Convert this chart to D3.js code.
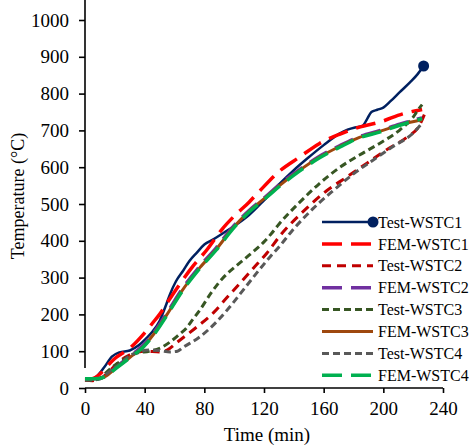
<!DOCTYPE html>
<html>
<head>
<meta charset="utf-8">
<script src="https://cdn.jsdelivr.net/npm/d3@7"></script>
<style>
  html, body { margin: 0; padding: 0; background: #fff; }
  svg { display: block; font-family: "Liberation Serif", "Times New Roman", serif; }
</style>
</head>
<body>
<svg id="chart" width="469" height="446"></svg>
<script>
// ---- Data ----
const xTicks = [0, 40, 80, 120, 160, 200, 240];
const yTicks = [0, 100, 200, 300, 400, 500, 600, 700, 800, 900, 1000];

const testWSTC1_t = [0,4,8,13,18,23,30,36,41,45,50,54,57,61,66,70,75,80,86,93,100,110,120,130,140,150,160,170,176,181,186,189,192,196,200,205,211,218,223,227];
const testWSTC1_T = [22,23,32,57,85,97,102,116,135,152,182,222,255,290,320,345,368,390,404,422,440,470,510,553,592,627,660,690,702,708,712,730,750,756,762,780,804,831,853,875];

const femWSTC1_t = [0,5,10,15,20,30,40,46,50,55,64,72,82,92,100,110,117,130,144,157,171,184,198,213,226];
const femWSTC1_T = [22,25,38,60,80,108,150,180,200,231,285,329,377,432,467,505,535,588,628,664,690,709,723,745,757];

const testWSTC2_t = [0,5,10,15,20,25,30,35,40,50,55,62,75,86,95,104,113,122,131,149,162,175,189,202,216,224,228];
const testWSTC2_T = [22,20,25,40,60,78,90,97,100,98,103,125,166,204,245,285,326,367,415,490,536,572,611,647,682,712,748];

const femWSTC2_t = [0,10,13,21,30,39,46,55,65,77,88,99,110,122,131,144,157,171,184,198,211,226];
const femWSTC2_T = [25,26,31,57,86,116,150,204,268,331,381,437,482,523,555,594,629,659,683,700,717,734];

const testWSTC3_t = [0,5,10,15,20,25,30,35,43,50,57,63,68,72,77,85,92,102,110,120,125,130,144,157,171,184,198,211,220,224,226];
const testWSTC3_T = [22,22,27,45,62,75,87,95,100,108,125,145,163,185,212,261,297,334,361,397,420,445,505,555,600,633,666,701,736,760,770];

const femWSTC3_t = [0,10,13,21,30,39,46,55,65,77,88,99,110,122,131,144,157,171,184,198,211,226];
const femWSTC3_T = [25,26,30,55,83,112,146,200,264,327,377,434,480,521,552,592,627,657,681,698,715,729];

const testWSTC4_t = [0,5,10,15,20,25,30,35,43,50,57,62,66,77,88,97,106,115,124,131,139,153,166,180,193,206,220,226];
const testWSTC4_T = [22,22,25,40,55,70,88,97,103,102,98,100,111,139,179,220,266,312,356,388,428,488,535,582,619,655,693,720];

const femWSTC4_t = [0,10,13,21,30,39,46,55,65,77,88,99,110,122,131,144,157,171,184,198,211,226];
const femWSTC4_T = [25,26,30,54,82,111,144,198,262,325,375,432,478,519,550,590,625,655,680,696,714,732];

const seriesNames = ["Test-WSTC1","FEM-WSTC1","Test-WSTC2","FEM-WSTC2","Test-WSTC3","FEM-WSTC3","Test-WSTC4","FEM-WSTC4"];
const seriesTimes = [testWSTC1_t, femWSTC1_t, testWSTC2_t, femWSTC2_t, testWSTC3_t, femWSTC3_t, testWSTC4_t, femWSTC4_t];
const seriesTemps = [testWSTC1_T, femWSTC1_T, testWSTC2_T, femWSTC2_T, testWSTC3_T, femWSTC3_T, testWSTC4_T, femWSTC4_T];

// ---- Styles ----
const styles = [
  { color: "#002060", width: 2.5, dash: null, marker: true },
  { color: "#FF0000", width: 3.5, dash: "20 9" },
  { color: "#C00000", width: 3,   dash: "9 6" },
  { color: "#7030A0", width: 3.5, dash: "20 9" },
  { color: "#375623", width: 3,   dash: "7 4" },
  { color: "#9E480E", width: 3,   dash: null },
  { color: "#595959", width: 3,   dash: "7 4" },
  { color: "#00B050", width: 3.5, dash: "20 9" }
];

const svg = d3.select("#chart");
const x = d3.scaleLinear().domain([0, 240]).range([85, 443]);
const y = d3.scaleLinear().domain([0, 1000]).range([388, 20]);

// Curves
const line = d3.line().x(d => x(d[0])).y(d => y(d[1])).curve(d3.curveMonotoneX);
const gLines = svg.append("g");
seriesNames.forEach((name, i) => {
  const pts = seriesTimes[i].map((t, k) => [t, seriesTemps[i][k]]);
  const st = styles[i];
  gLines.append("path")
    .datum(pts)
    .attr("d", line)
    .attr("fill", "none")
    .attr("stroke", st.color)
    .attr("stroke-width", st.width)
    .attr("stroke-dasharray", st.dash)
    .attr("stroke-linejoin", "round");
  if (st.marker) {
    const last = pts[pts.length - 1];
    gLines.append("circle")
      .attr("cx", x(last[0])).attr("cy", y(last[1])).attr("r", 5.5)
      .attr("fill", st.color);
  }
});

// Axes
const xAxis = svg.append("g").attr("transform", "translate(0,388)")
  .call(d3.axisBottom(x).tickValues(xTicks).tickSize(5).tickPadding(9).tickFormat(d3.format("d")));
const yAxis = svg.append("g").attr("transform", "translate(85,0)")
  .call(d3.axisLeft(y).tickValues(yTicks).tickSize(6).tickPadding(10).tickFormat(d3.format("d")));
[xAxis, yAxis].forEach(a => {
  a.attr("font-family", null);
  a.select(".domain").attr("stroke", "#000").attr("stroke-width", 1.6);
  a.selectAll(".tick line").attr("stroke", "#000").attr("stroke-width", 1.6);
  a.selectAll(".tick text").attr("fill", "#000")
    .style("font-family", "'Liberation Serif', 'Times New Roman', serif")
    .style("font-size", "19px");
});
xAxis.select(".domain").attr("d", "M85,0H443");
yAxis.select(".domain").attr("d", "M0,368V0");

// Axis titles
svg.append("text")
  .attr("x", 267).attr("y", 441)
  .attr("text-anchor", "middle")
  .style("font-size", "19px")
  .text("Time (min)");
svg.append("text")
  .attr("transform", "translate(24,196) rotate(-90)")
  .attr("text-anchor", "middle")
  .style("font-size", "18px")
  .text("Temperature (°C)");

// Legend
const legend = svg.append("g");
seriesNames.forEach((name, i) => {
  const st = styles[i];
  const ly = 222 + i * 21.9;
  legend.append("line")
    .attr("x1", 322).attr("x2", 373).attr("y1", ly).attr("y2", ly)
    .attr("stroke", st.color).attr("stroke-width", st.width)
    .attr("stroke-dasharray", st.dash);
  if (st.marker) {
    legend.append("circle").attr("cx", 373).attr("cy", ly).attr("r", 5.5).attr("fill", st.color);
  }
  legend.append("text")
    .attr("x", 378).attr("y", ly).attr("dy", "0.35em")
    .style("font-size", "16px")
    .text(name);
});
</script>
</body>
</html>
